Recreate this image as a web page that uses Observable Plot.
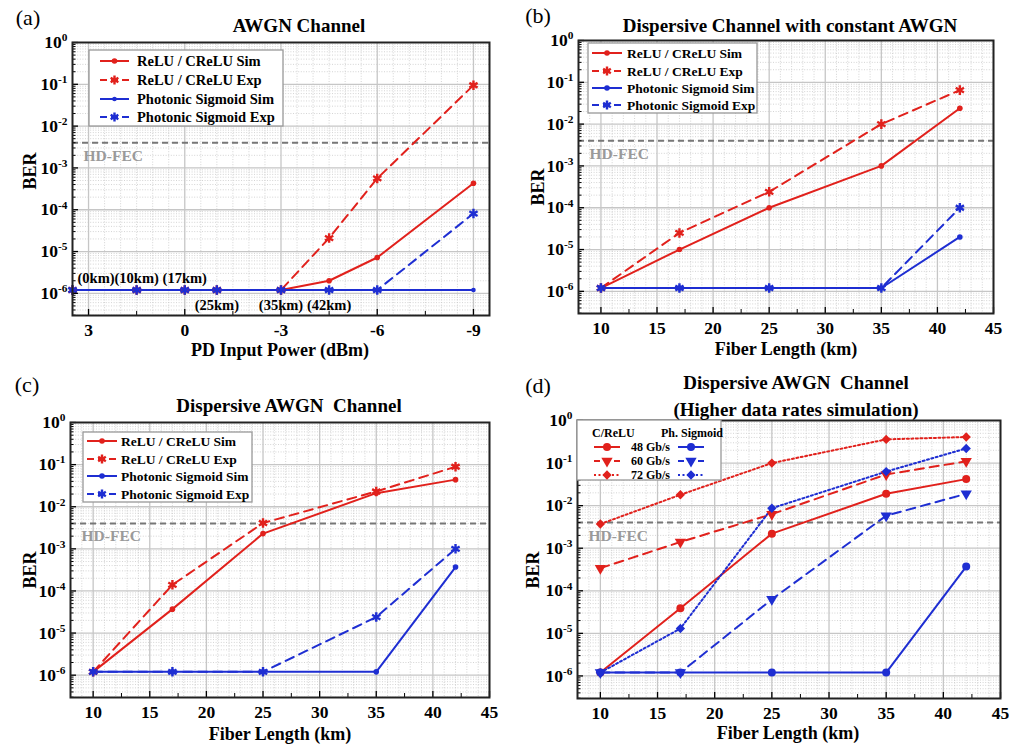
<!DOCTYPE html>
<html><head><meta charset="utf-8">
<script src="https://cdn.jsdelivr.net/npm/d3@7"></script>
<script src="https://cdn.jsdelivr.net/npm/@observablehq/plot@0.6"></script>
<style>
body{margin:0;background:#fff;}
#wrap{position:relative;width:1009px;height:745px;overflow:hidden;font-family:"Liberation Serif","Times New Roman",serif;color:#000;}
#wrap svg{position:absolute;}
.lab{position:absolute;white-space:pre;line-height:1;transform:translate(-50%,-50%);}
</style></head><body><div id="wrap"></div>
<script>
// ---------------- DATA ----------------
const kmX = [10, 17, 25, 35, 42];
const powerA = [3.5, 1.5, 0, -1, -3, -4.5, -6, -9];
const kmLabelsA = ["(0km)", "(10km)", "(17km)", "(25km)", "(35km)", "(42km)"];
// (a) AWGN channel
const a_reluSim = [1.2e-6, 1.2e-6, 1.2e-6, 1.2e-6, 1.2e-6, 2.0e-6, 7.2e-6, 4.3e-4];
const a_reluExp = [1.2e-6, 1.2e-6, 1.2e-6, 1.2e-6, 1.2e-6, 2.1e-5, 5.6e-4, 9.5e-2];
const a_psSim   = [1.2e-6, 1.2e-6, 1.2e-6, 1.2e-6, 1.2e-6, 1.2e-6, 1.2e-6, 1.2e-6];
const a_psExp   = [1.2e-6, 1.2e-6, 1.2e-6, 1.2e-6, 1.2e-6, 1.2e-6, 1.2e-6, 8.1e-5];
// (b) Dispersive channel with constant AWGN
const b_reluSim = [1.2e-6, 1.0e-5, 1.0e-4, 1.0e-3, 2.4e-2];
const b_reluExp = [1.2e-6, 2.5e-5, 2.4e-4, 1.0e-2, 6.5e-2];
const b_psSim   = [1.2e-6, 1.2e-6, 1.2e-6, 1.2e-6, 2.0e-5];
const b_psExp   = [1.2e-6, 1.2e-6, 1.2e-6, 1.2e-6, 1.0e-4];
// (c) Dispersive AWGN channel
const c_reluSim = [1.2e-6, 3.7e-5, 2.3e-3, 2.1e-2, 4.4e-2];
const c_reluExp = [1.2e-6, 1.4e-4, 4.1e-3, 2.3e-2, 8.9e-2];
const c_psSim   = [1.2e-6, 1.2e-6, 1.2e-6, 1.2e-6, 3.7e-4];
const c_psExp   = [1.2e-6, 1.2e-6, 1.2e-6, 2.4e-5, 1.0e-3];
// (d) Higher data rates simulation
const d_relu48 = [1.2e-6, 3.9e-5, 2.2e-3, 1.9e-2, 4.2e-2];
const d_relu60 = [3.4e-4, 1.4e-3, 6.3e-3, 5.4e-2, 1.1e-1];
const d_relu72 = [3.7e-3, 1.8e-2, 1.0e-1, 3.6e-1, 4.1e-1];
const d_ps48   = [1.2e-6, 1.2e-6, 1.2e-6, 1.2e-6, 3.7e-4];
const d_ps60   = [1.2e-6, 1.2e-6, 6.3e-5, 5.8e-3, 1.9e-2];
const d_ps72   = [1.2e-6, 1.3e-5, 8.7e-3, 6.3e-2, 2.2e-1];
const hdFec = 4e-3;
// ticks
const yMajor = [1, 1e-1, 1e-2, 1e-3, 1e-4, 1e-5, 1e-6];
const xMajorA = [3, 0, -3, -6, -9];
const xMinorA = [1.5, -1.5, -4.5, -7.5];
const xMajorKm = [10, 15, 20, 25, 30, 35, 40, 45];
const xMinorKm = [12.5, 17.5, 22.5, 27.5, 32.5, 37.5, 42.5];
const legendA = ["ReLU / CReLU Sim", "ReLU / CReLU Exp", "Photonic Sigmoid Sim", "Photonic Sigmoid Exp"];
const legendD = ["48 Gb/s", "60 Gb/s", "72 Gb/s"];

// ---------------- SETUP ----------------
const FONT = '"Liberation Serif","Times New Roman",serif';
const RED = "#e1211c", BLUE = "#1e2ed2";
const yDomain = [Math.pow(10, -6.53), 1];
const yMinor = [];
for (let e = -7; e < 0; e++) for (let m = 2; m <= 9; m++) { const v = m * Math.pow(10, e); if (v >= yDomain[0] && v < 1) yMinor.push(v); }
const DASH = "9,6", DOT = "2,2.5";
const wrap = document.getElementById("wrap");

function label(text, cx, cy, size, opts = {}) {
  const d = document.createElement("div");
  d.className = "lab";
  d.textContent = text;
  d.style.left = cx + "px"; d.style.top = cy + "px";
  d.style.fontSize = size + "px";
  d.style.fontWeight = opts.bold === false ? "normal" : "bold";
  if (opts.rotate) d.style.transform = "translate(-50%,-50%) rotate(-90deg)";
  wrap.appendChild(d);
}

function dotOpts(s) {
  const o = {x: "x", y: "y", symbol: s.symbol, r: s.r};
  if (s.symbol === "asterisk") { o.stroke = s.color; o.strokeWidth = 2.4; o.fill = "none"; }
  else { o.fill = s.color; o.stroke = "none"; }
  if (s.rotate) o.rotate = s.rotate;
  return o;
}

function panel(cfg) {
  const {left, top, width, height, mt, mr, mb, ml, xDomain, xMajor, xMinor, xFine, series, extra = []} = cfg;
  const fw = width - ml - mr, fh = height - mt - mb;
  const marks = [
    Plot.ruleY(yMinor, {y: d => d, stroke: "#c9c9c9", strokeWidth: 0.8, strokeDasharray: "1,1.6"}),
    Plot.ruleX(xFine, {x: d => d, stroke: "#c9c9c9", strokeWidth: 0.8, strokeDasharray: "1,1.6"}),
    Plot.ruleY(yMajor.slice(1), {y: d => d, stroke: "#c6c6c6", strokeWidth: 1.3}),
    Plot.ruleX(xMajor, {x: d => d, stroke: "#c6c6c6", strokeWidth: 1.3}),
    Plot.ruleY([hdFec], {y: d => d, stroke: "#777", strokeWidth: 2, strokeDasharray: "6,4"}),
    Plot.text(["HD-FEC"], {y: () => hdFec, text: d => d, frameAnchor: "left", textAnchor: "start", dx: 11, dy: 13, fill: "#9a9a9a", fontSize: 15.5, fontWeight: "bold"}),
    ...extra,
    ...series.map(s => Plot.line(s.x.map((x, j) => ({x, y: s.y[j]})), {x: "x", y: "y", stroke: s.color, strokeWidth: 2, strokeDasharray: s.dash || null})),
    ...series.map(s => Plot.dot(s.x.map((x, j) => ({x, y: s.y[j]})), dotOpts(s))),
    Plot.tickY(yMajor, {y: d => d, insetRight: fw - 6, stroke: "#000", strokeWidth: 1.3}),
    Plot.tickY(yMinor, {y: d => d, insetRight: fw - 3.5, stroke: "#000", strokeWidth: 1}),
    Plot.tickX(xMajor, {x: d => d, insetTop: fh - 6, stroke: "#000", strokeWidth: 1.3}),
    Plot.tickX(xMinor, {x: d => d, insetTop: fh - 4, stroke: "#000", strokeWidth: 1}),
    Plot.frame({stroke: "#222", strokeWidth: 2}),
    Plot.axisY(yMajor, {label: null, tickSize: 0, tickPadding: 5, tickFormat: d => String(Math.round(Math.log10(d))), fontSize: 17.5, fontWeight: "bold"}),
    Plot.axisX(xMajor, {label: null, tickSize: 0, tickPadding: 8, tickFormat: d => String(d), fontSize: 17.5, fontWeight: "bold"})
  ];
  const svg = Plot.plot({
    width, height, marginTop: mt, marginRight: mr, marginBottom: mb, marginLeft: ml,
    x: {domain: xDomain, label: null},
    y: {type: "log", domain: yDomain, label: null},
    style: {fontFamily: FONT, background: "transparent", overflow: "visible"},
    marks
  });
  svg.style.left = left + "px"; svg.style.top = top + "px";
  wrap.appendChild(svg);
  // superscript exponents
  d3.select(svg).selectAll('g[aria-label="y-axis tick label"] text').each(function () {
    const e = this.textContent; const t = d3.select(this); t.text("");
    t.append("tspan").text("10");
    t.append("tspan").attr("dy", "-0.6em").attr("font-size", "0.65em").text(e);
  });
  return svg;
}

function sym(g, type, cx, cy, r, color, rotate) {
  const types = {circle: d3.symbolCircle, asterisk: d3.symbolAsterisk, triangle: d3.symbolTriangle, diamond2: d3.symbolDiamond2};
  const p = g.append("path").attr("d", d3.symbol(types[type], Math.PI * r * r)())
    .attr("transform", `translate(${cx},${cy})${rotate ? ` rotate(${rotate})` : ""}`);
  if (type === "asterisk") p.attr("fill", "none").attr("stroke", color).attr("stroke-width", 2.4);
  else p.attr("fill", color);
}

function legend4(svg, ox, oy, box, rows, lx0, lx1, tx, fs, series) {
  const g = d3.select(svg).append("g").attr("text-anchor", "start").attr("font-family", FONT).attr("font-weight", "bold");
  g.append("rect").attr("x", box[0] - ox).attr("y", box[1] - oy).attr("width", box[2] - box[0]).attr("height", box[3] - box[1])
    .attr("fill", "#fff").attr("stroke", "#999").attr("stroke-width", 1.3);
  rows.forEach((y, i) => {
    const s = series[i];
    g.append("line").attr("x1", lx0 - ox).attr("x2", lx1 - ox).attr("y1", y - oy).attr("y2", y - oy)
      .attr("stroke", s.color).attr("stroke-width", 2).attr("stroke-dasharray", s.dash ? "7,4" : null);
    sym(g, s.symbol, (lx0 + lx1) / 2 - ox, y - oy, s.symbol === "asterisk" ? 4.2 : s.r, s.color, s.rotate);
    g.append("text").attr("x", tx - ox).attr("y", y - oy).attr("dy", "0.35em").attr("font-size", fs).text(legendA[i]);
  });
}

// ---------------- PANEL (a) ----------------
const sA = [
  {x: powerA, y: a_reluSim, color: RED, symbol: "circle", r: 2.8},
  {x: powerA, y: a_reluExp, color: RED, dash: DASH, symbol: "asterisk", r: 4.5},
  {x: powerA, y: a_psSim, color: BLUE, symbol: "circle", r: 2.3},
  {x: powerA, y: a_psExp, color: BLUE, dash: DASH, symbol: "asterisk", r: 4.5}
];
const kmRows = kmLabelsA.map((t, i) => ({t, x: powerA[i], y: a_psSim[i], i}));
const svgA = panel({
  left: 0, top: 0, width: 504, height: 370, mt: 42, mr: 15, mb: 55, ml: 72,
  xDomain: [3.5, -9.5], xMajor: xMajorA, xMinor: xMinorA,
  xFine: d3.range(3.5, -9.6, -0.5).filter(v => !xMajorA.includes(v)),
  series: sA,
  extra: [
    Plot.text(kmRows.filter(d => d.i === 0), {x: "x", y: "y", text: "t", textAnchor: "start", dx: 5, dy: -12, fontSize: 14.5, fontWeight: "bold"}),
    Plot.text(kmRows.filter(d => d.i > 0 && d.i < 3), {x: "x", y: "y", text: "t", dy: -12, fontSize: 14.5, fontWeight: "bold"}),
    Plot.text(kmRows.filter(d => d.i >= 3), {x: "x", y: "y", text: "t", dy: 15, fontSize: 14.5, fontWeight: "bold"})
  ]
});
legend4(svgA, 0, 0, [89, 50, 283, 126], [61, 80, 99, 117], 100, 129, 137, 14.5, sA);

// ---------------- PANEL (b) ----------------
const sB = [
  {x: kmX, y: b_reluSim, color: RED, symbol: "circle", r: 2.8},
  {x: kmX, y: b_reluExp, color: RED, dash: DASH, symbol: "asterisk", r: 4.5},
  {x: kmX, y: b_psSim, color: BLUE, symbol: "circle", r: 2.8},
  {x: kmX, y: b_psExp, color: BLUE, dash: DASH, symbol: "asterisk", r: 4.5}
];
const kmFine = d3.range(8, 45.01, 1).filter(v => !xMajorKm.includes(v));
const svgB = panel({
  left: 504, top: 0, width: 505, height: 370, mt: 40, mr: 16, mb: 57, ml: 74,
  xDomain: [8, 45], xMajor: xMajorKm, xMinor: xMinorKm, xFine: kmFine, series: sB
});
legend4(svgB, 504, 0, [588, 43, 757, 113], [53, 71, 88, 105], 592, 622, 627, 13.5, sB);

// ---------------- PANEL (c) ----------------
const sC = [
  {x: kmX, y: c_reluSim, color: RED, symbol: "circle", r: 2.8},
  {x: kmX, y: c_reluExp, color: RED, dash: DASH, symbol: "asterisk", r: 4.5},
  {x: kmX, y: c_psSim, color: BLUE, symbol: "circle", r: 2.8},
  {x: kmX, y: c_psExp, color: BLUE, dash: DASH, symbol: "asterisk", r: 4.5}
];
const svgC = panel({
  left: 0, top: 370, width: 504, height: 375, mt: 52, mr: 15, mb: 48, ml: 70,
  xDomain: [8, 45], xMajor: xMajorKm, xMinor: xMinorKm, xFine: kmFine, series: sC
});
legend4(svgC, 0, 370, [83, 432, 252, 502], [441, 459, 476, 494], 87, 117, 121, 13.5, sC);

// ---------------- PANEL (d) ----------------
const sD = [
  {x: kmX, y: d_relu48, color: RED, symbol: "circle", r: 4},
  {x: kmX, y: d_relu60, color: RED, dash: DASH, symbol: "triangle", r: 4.2, rotate: 180},
  {x: kmX, y: d_relu72, color: RED, dash: DOT, symbol: "diamond2", r: 4.2},
  {x: kmX, y: d_ps48, color: BLUE, symbol: "circle", r: 4},
  {x: kmX, y: d_ps60, color: BLUE, dash: DASH, symbol: "triangle", r: 4.2, rotate: 180},
  {x: kmX, y: d_ps72, color: BLUE, dash: DOT, symbol: "diamond2", r: 4.2}
];
const svgD = panel({
  left: 504, top: 370, width: 505, height: 375, mt: 50, mr: 9, mb: 47, ml: 73,
  xDomain: [8, 45], xMajor: xMajorKm, xMinor: xMinorKm, xFine: kmFine, series: sD
});
(function () {
  const ox = 504, oy = 370;
  const g = d3.select(svgD).append("g").attr("font-family", FONT).attr("font-weight", "bold").attr("text-anchor", "start");
  g.append("rect").attr("x", 577 - ox).attr("y", 420 - oy).attr("width", 144).attr("height", 60)
    .attr("fill", "#fff").attr("stroke", "#999").attr("stroke-width", 1.3);
  g.append("text").attr("x", 592 - ox).attr("y", 433 - oy).attr("dy", "0.35em").attr("font-size", 12).text("C/ReLU");
  g.append("text").attr("x", 661 - ox).attr("y", 433 - oy).attr("dy", "0.35em").attr("font-size", 12).text("Ph. Sigmoid");
  [447, 461, 475].forEach((y, i) => {
    [[sD[i], 594, 620], [sD[i + 3], 678, 704]].forEach(([s, a, b]) => {
      g.append("line").attr("x1", a - ox).attr("x2", b - ox).attr("y1", y - oy).attr("y2", y - oy)
        .attr("stroke", s.color).attr("stroke-width", 2).attr("stroke-dasharray", s.dash === DASH ? "6,4" : s.dash);
      sym(g, s.symbol, (a + b) / 2 - ox, y - oy, s.r, s.color, s.rotate);
    });
    g.append("text").attr("x", 631 - ox).attr("y", y - oy).attr("dy", "0.35em").attr("font-size", 12).text(legendD[i]);
  });
})();

// ---------------- TEXT ----------------
label("(a)", 28, 18, 22, {bold: false});
label("(b)", 538, 16, 22, {bold: false});
label("(c)", 27, 385, 22, {bold: false});
label("(d)", 538, 386, 22, {bold: false});
label("AWGN Channel", 299, 25, 19);
label("Dispersive Channel with constant AWGN", 790, 25, 19);
label("Dispersive AWGN  Channel", 289, 405, 19);
label("Dispersive AWGN  Channel", 796, 382, 19);
label("(Higher data rates simulation)", 796, 409, 19);
label("PD Input Power (dBm)", 280, 350, 18);
label("Fiber Length (km)", 786, 349, 18);
label("Fiber Length (km)", 280, 734, 18);
label("Fiber Length (km)", 788, 733, 18);
label("BER", 30, 171, 18, {rotate: true});
label("BER", 538, 187, 18, {rotate: true});
label("BER", 30, 570, 18, {rotate: true});
label("BER", 533, 570, 18, {rotate: true});
</script></body></html>
